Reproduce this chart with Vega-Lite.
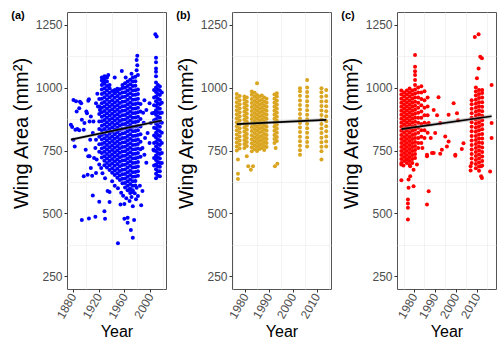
{
"$schema":"https://vega.github.io/schema/vega-lite/v6.json",
"padding":{"left":10,"top":9,"right":0,"bottom":0},
"spacing":8,
"config":{
"font":"Liberation Sans",
"view":{"stroke":"#555555","strokeWidth":1},
"axis":{"domain":false,"tickSize":3,"tickColor":"#333333","labelFontSize":12,"labelColor":"#4D4D4D","labelFont":"Liberation Sans","titleFont":"Liberation Sans","titleFontWeight":"normal","titleColor":"#000000","gridColor":"#EBEBEB","gridWidth":1,"labelFlush":false,"labelOverlap":false,"labelPadding":2},
"axisX":{"labelAngle":300,"labelAlign":"right","labelBaseline":"middle","titleFontSize":16,"titlePadding":3},
"axisY":{"titleFontSize":20,"titlePadding":4,"titleY":121},
"title":{"anchor":"start","frame":"bounds","fontSize":11,"fontWeight":"bold","baseline":"top","offset":0,"dy":13,"font":"Liberation Sans","color":"#000000"}
},
"datasets":{
"fit":[{"p":"a","x":1877,"y":793,"lo":787,"hi":799},{"p":"a","x":2018,"y":869,"lo":862,"hi":876},{"p":"b","x":1976.5,"y":855,"lo":849,"hi":861},{"p":"b","x":2014,"y":872,"lo":865,"hi":879},{"p":"c","x":1974,"y":835,"lo":828,"hi":842},{"p":"c","x":2017,"y":886,"lo":878,"hi":894}],
"a":[
{"x":1877,"y":852},{"x":1879,"y":843},{"x":1881,"y":793},{"x":1881,"y":951},{"x":1883,"y":766},{"x":1884,"y":832},{"x":1885,"y":946},{"x":1886,"y":905},{"x":1887,"y":835},{"x":1890,"y":918},{"x":1890,"y":830},{"x":1891,"y":944},{"x":1893,"y":938},{"x":1894,"y":872},{"x":1897,"y":832},{"x":1897,"y":648},{"x":1898,"y":859},{"x":1900,"y":753},{"x":1901,"y":905},{"x":1902,"y":898},{"x":1903,"y":654},{"x":1904,"y":948},{"x":1904,"y":727},{"x":1905,"y":954},{"x":1906,"y":865},{"x":1906,"y":727},{"x":1907,"y":793},{"x":1908,"y":885},{"x":1908,"y":681},{"x":1910,"y":650},{"x":1911,"y":819},{"x":1912,"y":865},{"x":1913,"y":720},{"x":1915,"y":760},{"x":1916,"y":793},{"x":1916,"y":938},{"x":1916,"y":661},{"x":1917,"y":714},{"x":1918,"y":975},{"x":1919,"y":925},{"x":1922,"y":911},
{"x":1894,"y":474},{"x":1905,"y":480},{"x":1915,"y":487},{"x":1911,"y":571},{"x":1921,"y":546},{"x":1921,"y":694},{"x":1924,"y":681},{"x":1929,"y":509},{"x":1930,"y":479},{"x":1934,"y":589},{"x":1937,"y":545},{"x":1937,"y":585},{"x":1950,"y":382},{"x":1954,"y":536},{"x":1955,"y":582},{"x":1960,"y":479},{"x":1960,"y":538},{"x":1965,"y":483},{"x":1965,"y":463},{"x":1968,"y":549},{"x":1968,"y":595},{"x":1970,"y":434},{"x":1973,"y":404},{"x":1973,"y":529},{"x":1973,"y":585},{"x":1975,"y":474},{"x":1978,"y":556},{"x":1979,"y":602},{"x":1981,"y":569},{"x":1986,"y":533},{"x":1988,"y":589},{"x":1991,"y":733},{"x":1994,"y":701},
{"x":1945,"y":610},{"x":1950,"y":600},{"x":1958,"y":570},{"x":1963,"y":560},{"x":1971,"y":565},{"x":1976,"y":580},{"x":1984,"y":610},{"x":1941,"y":628},{"x":1930,"y":640},{"x":1926,"y":660},
{"x":1980,"y":1126},{"x":1979,"y":1109},{"x":1980,"y":1089},{"x":1979,"y":1069},{"x":1981,"y":1050},{"x":1956,"y":1066},{"x":1945,"y":1040},{"x":1931,"y":1043},{"x":1927,"y":1023},{"x":1935,"y":1050},{"x":1962,"y":1040},{"x":1971,"y":1055},
{"x":1994,"y":911},{"x":1996,"y":819},{"x":1999,"y":938},{"x":1999,"y":780},{"x":2001,"y":859},{"x":2003,"y":898},{"x":2005,"y":753},{"x":1990,"y":860},{"x":1992,"y":800},{"x":1988,"y":760},{"x":1989,"y":900},{"x":1991,"y":950},
{"x":1921,"y":745},{"x":1921,"y":775},{"x":1921,"y":805},{"x":1921,"y":835},{"x":1921,"y":865},{"x":1921,"y":895},{"x":1921,"y":925},{"x":1921,"y":955},
{"x":1925,"y":722},{"x":1925,"y":740},{"x":1925,"y":758},{"x":1925,"y":776},{"x":1925,"y":794},{"x":1925,"y":812},{"x":1925,"y":830},{"x":1925,"y":848},{"x":1925,"y":866},{"x":1925,"y":884},{"x":1925,"y":902},{"x":1925,"y":920},{"x":1925,"y":938},{"x":1925,"y":956},{"x":1925,"y":974},{"x":1925,"y":992},{"x":1925,"y":1010},{"x":1925,"y":1028},{"x":1925,"y":1040},
{"x":1929,"y":691},{"x":1929,"y":709},{"x":1929,"y":727},{"x":1929,"y":745},{"x":1929,"y":763},{"x":1929,"y":781},{"x":1929,"y":799},{"x":1929,"y":817},{"x":1929,"y":835},{"x":1929,"y":853},{"x":1929,"y":871},{"x":1929,"y":889},{"x":1929,"y":907},{"x":1929,"y":925},{"x":1929,"y":943},{"x":1929,"y":961},{"x":1929,"y":979},{"x":1929,"y":997},{"x":1929,"y":1015},{"x":1929,"y":1033},{"x":1929,"y":1045},
{"x":1933,"y":682},{"x":1933,"y":700},{"x":1933,"y":718},{"x":1933,"y":736},{"x":1933,"y":754},{"x":1933,"y":772},{"x":1933,"y":790},{"x":1933,"y":808},{"x":1933,"y":826},{"x":1933,"y":844},{"x":1933,"y":862},{"x":1933,"y":880},{"x":1933,"y":898},{"x":1933,"y":916},{"x":1933,"y":934},{"x":1933,"y":952},{"x":1933,"y":970},{"x":1933,"y":988},{"x":1933,"y":1006},{"x":1933,"y":1024},{"x":1933,"y":1040},
{"x":1937,"y":673},{"x":1937,"y":691},{"x":1937,"y":709},{"x":1937,"y":727},{"x":1937,"y":745},{"x":1937,"y":763},{"x":1937,"y":781},{"x":1937,"y":799},{"x":1937,"y":817},{"x":1937,"y":835},{"x":1937,"y":853},{"x":1937,"y":871},{"x":1937,"y":889},{"x":1937,"y":907},{"x":1937,"y":925},{"x":1937,"y":943},{"x":1937,"y":961},{"x":1937,"y":979},{"x":1937,"y":997},{"x":1937,"y":1010},
{"x":1941,"y":662},{"x":1941,"y":680},{"x":1941,"y":698},{"x":1941,"y":716},{"x":1941,"y":734},{"x":1941,"y":752},{"x":1941,"y":770},{"x":1941,"y":788},{"x":1941,"y":806},{"x":1941,"y":824},{"x":1941,"y":842},{"x":1941,"y":860},{"x":1941,"y":878},{"x":1941,"y":896},{"x":1941,"y":914},{"x":1941,"y":932},{"x":1941,"y":950},{"x":1941,"y":968},{"x":1941,"y":986},
{"x":1945,"y":653},{"x":1945,"y":671},{"x":1945,"y":689},{"x":1945,"y":707},{"x":1945,"y":725},{"x":1945,"y":743},{"x":1945,"y":761},{"x":1945,"y":779},{"x":1945,"y":797},{"x":1945,"y":815},{"x":1945,"y":833},{"x":1945,"y":851},{"x":1945,"y":869},{"x":1945,"y":887},{"x":1945,"y":905},{"x":1945,"y":923},{"x":1945,"y":941},{"x":1945,"y":959},{"x":1945,"y":977},{"x":1945,"y":990},
{"x":1949,"y":642},{"x":1949,"y":660},{"x":1949,"y":678},{"x":1949,"y":696},{"x":1949,"y":714},{"x":1949,"y":732},{"x":1949,"y":750},{"x":1949,"y":768},{"x":1949,"y":786},{"x":1949,"y":804},{"x":1949,"y":822},{"x":1949,"y":840},{"x":1949,"y":858},{"x":1949,"y":876},{"x":1949,"y":894},{"x":1949,"y":912},{"x":1949,"y":930},{"x":1949,"y":948},{"x":1949,"y":966},{"x":1949,"y":984},{"x":1949,"y":995},
{"x":1953,"y":633},{"x":1953,"y":651},{"x":1953,"y":669},{"x":1953,"y":687},{"x":1953,"y":705},{"x":1953,"y":723},{"x":1953,"y":741},{"x":1953,"y":759},{"x":1953,"y":777},{"x":1953,"y":795},{"x":1953,"y":813},{"x":1953,"y":831},{"x":1953,"y":849},{"x":1953,"y":867},{"x":1953,"y":885},{"x":1953,"y":903},{"x":1953,"y":921},{"x":1953,"y":939},{"x":1953,"y":957},{"x":1953,"y":975},{"x":1953,"y":993},
{"x":1957,"y":620},{"x":1957,"y":638},{"x":1957,"y":656},{"x":1957,"y":674},{"x":1957,"y":692},{"x":1957,"y":710},{"x":1957,"y":728},{"x":1957,"y":746},{"x":1957,"y":764},{"x":1957,"y":782},{"x":1957,"y":800},{"x":1957,"y":818},{"x":1957,"y":836},{"x":1957,"y":854},{"x":1957,"y":872},{"x":1957,"y":890},{"x":1957,"y":908},{"x":1957,"y":926},{"x":1957,"y":944},{"x":1957,"y":962},{"x":1957,"y":980},{"x":1957,"y":998},{"x":1957,"y":1010},
{"x":1961,"y":603},{"x":1961,"y":621},{"x":1961,"y":639},{"x":1961,"y":657},{"x":1961,"y":675},{"x":1961,"y":693},{"x":1961,"y":711},{"x":1961,"y":729},{"x":1961,"y":747},{"x":1961,"y":765},{"x":1961,"y":783},{"x":1961,"y":801},{"x":1961,"y":819},{"x":1961,"y":837},{"x":1961,"y":855},{"x":1961,"y":873},{"x":1961,"y":891},{"x":1961,"y":909},{"x":1961,"y":927},{"x":1961,"y":945},{"x":1961,"y":963},{"x":1961,"y":981},{"x":1961,"y":999},{"x":1961,"y":1017},
{"x":1965,"y":592},{"x":1965,"y":610},{"x":1965,"y":628},{"x":1965,"y":646},{"x":1965,"y":664},{"x":1965,"y":682},{"x":1965,"y":700},{"x":1965,"y":718},{"x":1965,"y":736},{"x":1965,"y":754},{"x":1965,"y":772},{"x":1965,"y":790},{"x":1965,"y":808},{"x":1965,"y":826},{"x":1965,"y":844},{"x":1965,"y":862},{"x":1965,"y":880},{"x":1965,"y":898},{"x":1965,"y":916},{"x":1965,"y":934},{"x":1965,"y":952},{"x":1965,"y":970},{"x":1965,"y":988},{"x":1965,"y":1006},{"x":1965,"y":1024},
{"x":1969,"y":581},{"x":1969,"y":599},{"x":1969,"y":617},{"x":1969,"y":635},{"x":1969,"y":653},{"x":1969,"y":671},{"x":1969,"y":689},{"x":1969,"y":707},{"x":1969,"y":725},{"x":1969,"y":743},{"x":1969,"y":761},{"x":1969,"y":779},{"x":1969,"y":797},{"x":1969,"y":815},{"x":1969,"y":833},{"x":1969,"y":851},{"x":1969,"y":869},{"x":1969,"y":887},{"x":1969,"y":905},{"x":1969,"y":923},{"x":1969,"y":941},{"x":1969,"y":959},{"x":1969,"y":977},{"x":1969,"y":995},{"x":1969,"y":1013},{"x":1969,"y":1031},
{"x":1973,"y":592},{"x":1973,"y":610},{"x":1973,"y":628},{"x":1973,"y":646},{"x":1973,"y":664},{"x":1973,"y":682},{"x":1973,"y":700},{"x":1973,"y":718},{"x":1973,"y":736},{"x":1973,"y":754},{"x":1973,"y":772},{"x":1973,"y":790},{"x":1973,"y":808},{"x":1973,"y":826},{"x":1973,"y":844},{"x":1973,"y":862},{"x":1973,"y":880},{"x":1973,"y":898},{"x":1973,"y":916},{"x":1973,"y":934},{"x":1973,"y":952},{"x":1973,"y":970},{"x":1973,"y":988},{"x":1973,"y":1006},{"x":1973,"y":1024},{"x":1973,"y":1040},
{"x":1977,"y":611},{"x":1977,"y":629},{"x":1977,"y":647},{"x":1977,"y":665},{"x":1977,"y":683},{"x":1977,"y":701},{"x":1977,"y":719},{"x":1977,"y":737},{"x":1977,"y":755},{"x":1977,"y":773},{"x":1977,"y":791},{"x":1977,"y":809},{"x":1977,"y":827},{"x":1977,"y":845},{"x":1977,"y":863},{"x":1977,"y":881},{"x":1977,"y":899},{"x":1977,"y":917},{"x":1977,"y":935},{"x":1977,"y":953},{"x":1977,"y":971},{"x":1977,"y":989},{"x":1977,"y":1007},{"x":1977,"y":1025},{"x":1977,"y":1043},
{"x":1981,"y":650},{"x":1981,"y":668},{"x":1981,"y":686},{"x":1981,"y":704},{"x":1981,"y":722},{"x":1981,"y":740},{"x":1981,"y":758},{"x":1981,"y":776},{"x":1981,"y":794},{"x":1981,"y":812},{"x":1981,"y":830},{"x":1981,"y":848},{"x":1981,"y":866},{"x":1981,"y":884},{"x":1981,"y":902},{"x":1981,"y":920},{"x":1981,"y":938},{"x":1981,"y":956},{"x":1981,"y":974},{"x":1981,"y":992},
{"x":1985,"y":725},{"x":1985,"y":755},{"x":1985,"y":785},{"x":1985,"y":815},{"x":1985,"y":845},{"x":1985,"y":875},{"x":1985,"y":905},{"x":1985,"y":935},
{"x":2006,"y":690},{"x":2006,"y":720},{"x":2006,"y":750},{"x":2006,"y":780},{"x":2006,"y":810},{"x":2006,"y":840},{"x":2006,"y":870},{"x":2006,"y":900},{"x":2006,"y":930},{"x":2006,"y":960},{"x":2006,"y":990},
{"x":2009,"y":640},{"x":2009,"y":658},{"x":2009,"y":676},{"x":2009,"y":694},{"x":2009,"y":712},{"x":2009,"y":730},{"x":2009,"y":748},{"x":2009,"y":766},{"x":2009,"y":784},{"x":2009,"y":802},{"x":2009,"y":820},{"x":2009,"y":838},{"x":2009,"y":856},{"x":2009,"y":874},{"x":2009,"y":892},{"x":2009,"y":910},{"x":2009,"y":928},{"x":2009,"y":946},{"x":2009,"y":964},{"x":2009,"y":982},{"x":2009,"y":1000},{"x":2009,"y":1020},{"x":2009,"y":1045},{"x":2009,"y":1063},{"x":2009,"y":1076},{"x":2009,"y":1100},{"x":2009,"y":1118},{"x":2008,"y":1212},{"x":2010,"y":1203},
{"x":2012,"y":650},{"x":2012,"y":668},{"x":2012,"y":686},{"x":2012,"y":704},{"x":2012,"y":722},{"x":2012,"y":740},{"x":2012,"y":758},{"x":2012,"y":776},{"x":2012,"y":794},{"x":2012,"y":812},{"x":2012,"y":830},{"x":2012,"y":848},{"x":2012,"y":866},{"x":2012,"y":884},{"x":2012,"y":902},{"x":2012,"y":920},{"x":2012,"y":938},{"x":2012,"y":956},{"x":2012,"y":974},{"x":2012,"y":992},{"x":2012,"y":1010},
{"x":2015,"y":648},{"x":2015,"y":668},{"x":2015,"y":685},{"x":2015,"y":700},{"x":2015,"y":718},{"x":2015,"y":736},{"x":2015,"y":754},{"x":2015,"y":772},{"x":2015,"y":790},{"x":2015,"y":808},{"x":2015,"y":826},{"x":2015,"y":844},{"x":2015,"y":862},{"x":2015,"y":880},{"x":2015,"y":898},{"x":2015,"y":916},{"x":2015,"y":934},{"x":2015,"y":952},{"x":2015,"y":970},{"x":2015,"y":988},{"x":2015,"y":1004},
{"x":2018,"y":700},{"x":2018,"y":740},{"x":2018,"y":780},{"x":2018,"y":820},{"x":2018,"y":860},{"x":2018,"y":900},{"x":2018,"y":940},{"x":2018,"y":980}
],
"b":[
{"x":1976.5,"y":750},{"x":1976.5,"y":766},{"x":1976.5,"y":782},{"x":1976.5,"y":798},{"x":1976.5,"y":814},{"x":1976.5,"y":830},{"x":1976.5,"y":846},{"x":1976.5,"y":862},{"x":1976.5,"y":878},{"x":1976.5,"y":894},{"x":1976.5,"y":910},{"x":1976.5,"y":926},{"x":1976.5,"y":942},{"x":1976.5,"y":958},{"x":1976.5,"y":974},
{"x":1977.7,"y":758},{"x":1977.7,"y":774},{"x":1977.7,"y":790},{"x":1977.7,"y":806},{"x":1977.7,"y":822},{"x":1977.7,"y":838},{"x":1977.7,"y":854},{"x":1977.7,"y":870},{"x":1977.7,"y":886},{"x":1977.7,"y":902},{"x":1977.7,"y":918},{"x":1977.7,"y":934},{"x":1977.7,"y":950},{"x":1977.7,"y":966},
{"x":1977,"y":714},{"x":1977,"y":658},{"x":1977,"y":637},
{"x":1979.7,"y":760},{"x":1979.7,"y":776},{"x":1979.7,"y":792},{"x":1979.7,"y":808},{"x":1979.7,"y":824},{"x":1979.7,"y":840},{"x":1979.7,"y":856},{"x":1979.7,"y":872},{"x":1979.7,"y":888},{"x":1979.7,"y":904},{"x":1979.7,"y":920},{"x":1979.7,"y":936},{"x":1979.7,"y":952},{"x":1979.7,"y":964},
{"x":1980.7,"y":768},{"x":1980.7,"y":784},{"x":1980.7,"y":800},{"x":1980.7,"y":816},{"x":1980.7,"y":832},{"x":1980.7,"y":848},{"x":1980.7,"y":864},{"x":1980.7,"y":880},{"x":1980.7,"y":896},{"x":1980.7,"y":912},{"x":1980.7,"y":928},{"x":1980.7,"y":944},{"x":1980.7,"y":960},
{"x":1980.7,"y":727},{"x":1981.3,"y":687},{"x":1982.4,"y":674},{"x":1983.3,"y":687},
{"x":1982.8,"y":747},{"x":1982.8,"y":763},{"x":1982.8,"y":779},{"x":1982.8,"y":795},{"x":1982.8,"y":811},{"x":1982.8,"y":827},{"x":1982.8,"y":843},{"x":1982.8,"y":859},{"x":1982.8,"y":875},{"x":1982.8,"y":891},{"x":1982.8,"y":907},{"x":1982.8,"y":923},{"x":1982.8,"y":939},{"x":1982.8,"y":955},{"x":1982.8,"y":971},{"x":1982.8,"y":984},
{"x":1984,"y":755},{"x":1984,"y":771},{"x":1984,"y":787},{"x":1984,"y":803},{"x":1984,"y":819},{"x":1984,"y":835},{"x":1984,"y":851},{"x":1984,"y":867},{"x":1984,"y":883},{"x":1984,"y":899},{"x":1984,"y":915},{"x":1984,"y":931},{"x":1984,"y":947},{"x":1984,"y":963},{"x":1984,"y":979},
{"x":1985,"y":748},{"x":1985,"y":764},{"x":1985,"y":780},{"x":1985,"y":796},{"x":1985,"y":812},{"x":1985,"y":828},{"x":1985,"y":844},{"x":1985,"y":860},{"x":1985,"y":876},{"x":1985,"y":892},{"x":1985,"y":908},{"x":1985,"y":924},{"x":1985,"y":940},{"x":1985,"y":956},{"x":1985,"y":970},{"x":1985,"y":1017},
{"x":1986,"y":756},{"x":1986,"y":772},{"x":1986,"y":788},{"x":1986,"y":804},{"x":1986,"y":820},{"x":1986,"y":836},{"x":1986,"y":852},{"x":1986,"y":868},{"x":1986,"y":884},{"x":1986,"y":900},{"x":1986,"y":916},{"x":1986,"y":932},{"x":1986,"y":948},{"x":1986,"y":964},
{"x":1987,"y":760},{"x":1987,"y":776},{"x":1987,"y":792},{"x":1987,"y":808},{"x":1987,"y":824},{"x":1987,"y":840},{"x":1987,"y":856},{"x":1987,"y":872},{"x":1987,"y":888},{"x":1987,"y":904},{"x":1987,"y":920},{"x":1987,"y":936},{"x":1987,"y":952},{"x":1987,"y":968},
{"x":1988,"y":752},{"x":1988,"y":768},{"x":1988,"y":784},{"x":1988,"y":800},{"x":1988,"y":816},{"x":1988,"y":832},{"x":1988,"y":848},{"x":1988,"y":864},{"x":1988,"y":880},{"x":1988,"y":896},{"x":1988,"y":912},{"x":1988,"y":928},{"x":1988,"y":944},{"x":1988,"y":960},
{"x":1989,"y":764},{"x":1989,"y":780},{"x":1989,"y":796},{"x":1989,"y":812},{"x":1989,"y":828},{"x":1989,"y":844},{"x":1989,"y":860},{"x":1989,"y":876},{"x":1989,"y":892},{"x":1989,"y":908},{"x":1989,"y":924},{"x":1989,"y":940},{"x":1989,"y":956},
{"x":1992.3,"y":780},{"x":1992.3,"y":796},{"x":1992.3,"y":812},{"x":1992.3,"y":828},{"x":1992.3,"y":844},{"x":1992.3,"y":860},{"x":1992.3,"y":876},{"x":1992.3,"y":892},{"x":1992.3,"y":908},{"x":1992.3,"y":924},{"x":1992.3,"y":940},{"x":1992.3,"y":956},{"x":1992.3,"y":972},
{"x":1993.3,"y":788},{"x":1993.3,"y":804},{"x":1993.3,"y":820},{"x":1993.3,"y":836},{"x":1993.3,"y":852},{"x":1993.3,"y":868},{"x":1993.3,"y":884},{"x":1993.3,"y":900},{"x":1993.3,"y":916},{"x":1993.3,"y":932},{"x":1993.3,"y":948},{"x":1993.3,"y":964},{"x":1993.3,"y":977},
{"x":1992.5,"y":687},{"x":1993.5,"y":697},{"x":1992.8,"y":760},
{"x":2003,"y":733},{"x":2003,"y":751},{"x":2003,"y":769},{"x":2003,"y":787},{"x":2003,"y":805},{"x":2003,"y":823},{"x":2003,"y":841},{"x":2003,"y":859},{"x":2003,"y":877},{"x":2003,"y":895},{"x":2003,"y":913},{"x":2003,"y":931},{"x":2003,"y":949},{"x":2003,"y":967},{"x":2003,"y":985},{"x":2003,"y":997},
{"x":2006,"y":766},{"x":2006,"y":784},{"x":2006,"y":802},{"x":2006,"y":820},{"x":2006,"y":838},{"x":2006,"y":856},{"x":2006,"y":874},{"x":2006,"y":892},{"x":2006,"y":910},{"x":2006,"y":928},{"x":2006,"y":946},{"x":2006,"y":964},{"x":2006,"y":982},{"x":2006,"y":1000},{"x":2006,"y":1030},
{"x":2012,"y":714},{"x":2012,"y":747},{"x":2012,"y":765},{"x":2012,"y":783},{"x":2012,"y":801},{"x":2012,"y":819},{"x":2012,"y":837},{"x":2012,"y":855},{"x":2012,"y":873},{"x":2012,"y":891},{"x":2012,"y":909},{"x":2012,"y":927},{"x":2012,"y":945},{"x":2012,"y":963},{"x":2012,"y":981},{"x":2012,"y":997},
{"x":2014,"y":766},{"x":2014,"y":786},{"x":2014,"y":806},{"x":2014,"y":826},{"x":2014,"y":846},{"x":2014,"y":866},{"x":2014,"y":886},{"x":2014,"y":906},{"x":2014,"y":926},{"x":2014,"y":946},{"x":2014,"y":966},{"x":2014,"y":990}
],
"c":[
{"x":1974,"y":700},{"x":1974,"y":716},{"x":1974,"y":732},{"x":1974,"y":748},{"x":1974,"y":764},{"x":1974,"y":780},{"x":1974,"y":796},{"x":1974,"y":812},{"x":1974,"y":828},{"x":1974,"y":844},{"x":1974,"y":860},{"x":1974,"y":876},{"x":1974,"y":892},{"x":1974,"y":908},{"x":1974,"y":924},{"x":1974,"y":940},{"x":1974,"y":956},{"x":1974,"y":972},{"x":1974,"y":988},
{"x":1975.3,"y":708},{"x":1975.3,"y":724},{"x":1975.3,"y":740},{"x":1975.3,"y":756},{"x":1975.3,"y":772},{"x":1975.3,"y":788},{"x":1975.3,"y":804},{"x":1975.3,"y":820},{"x":1975.3,"y":836},{"x":1975.3,"y":852},{"x":1975.3,"y":868},{"x":1975.3,"y":884},{"x":1975.3,"y":900},{"x":1975.3,"y":916},{"x":1975.3,"y":932},{"x":1975.3,"y":948},{"x":1975.3,"y":964},{"x":1975.3,"y":980},
{"x":1976.6,"y":700},{"x":1976.6,"y":716},{"x":1976.6,"y":732},{"x":1976.6,"y":748},{"x":1976.6,"y":764},{"x":1976.6,"y":780},{"x":1976.6,"y":796},{"x":1976.6,"y":812},{"x":1976.6,"y":828},{"x":1976.6,"y":844},{"x":1976.6,"y":860},{"x":1976.6,"y":876},{"x":1976.6,"y":892},{"x":1976.6,"y":908},{"x":1976.6,"y":924},{"x":1976.6,"y":940},{"x":1976.6,"y":956},{"x":1976.6,"y":972},{"x":1976.6,"y":988},
{"x":1977.9,"y":692},{"x":1977.9,"y":708},{"x":1977.9,"y":724},{"x":1977.9,"y":740},{"x":1977.9,"y":756},{"x":1977.9,"y":772},{"x":1977.9,"y":788},{"x":1977.9,"y":804},{"x":1977.9,"y":820},{"x":1977.9,"y":836},{"x":1977.9,"y":852},{"x":1977.9,"y":868},{"x":1977.9,"y":884},{"x":1977.9,"y":900},{"x":1977.9,"y":916},{"x":1977.9,"y":932},{"x":1977.9,"y":948},{"x":1977.9,"y":964},{"x":1977.9,"y":980},{"x":1977.9,"y":996},
{"x":1979.2,"y":700},{"x":1979.2,"y":716},{"x":1979.2,"y":732},{"x":1979.2,"y":748},{"x":1979.2,"y":764},{"x":1979.2,"y":780},{"x":1979.2,"y":796},{"x":1979.2,"y":812},{"x":1979.2,"y":828},{"x":1979.2,"y":844},{"x":1979.2,"y":860},{"x":1979.2,"y":876},{"x":1979.2,"y":892},{"x":1979.2,"y":908},{"x":1979.2,"y":924},{"x":1979.2,"y":940},{"x":1979.2,"y":956},{"x":1979.2,"y":972},{"x":1979.2,"y":988},
{"x":1980.5,"y":720},{"x":1980.5,"y":736},{"x":1980.5,"y":752},{"x":1980.5,"y":768},{"x":1980.5,"y":784},{"x":1980.5,"y":800},{"x":1980.5,"y":816},{"x":1980.5,"y":832},{"x":1980.5,"y":848},{"x":1980.5,"y":864},{"x":1980.5,"y":880},{"x":1980.5,"y":896},{"x":1980.5,"y":912},{"x":1980.5,"y":928},{"x":1980.5,"y":944},{"x":1980.5,"y":960},{"x":1980.5,"y":976},{"x":1980.5,"y":992},{"x":1980.5,"y":1010},{"x":1980.5,"y":1030},{"x":1980.5,"y":1050},{"x":1980.5,"y":1065},{"x":1980.5,"y":1083},{"x":1980.5,"y":1129},
{"x":1982,"y":760},{"x":1982,"y":780},{"x":1982,"y":800},{"x":1982,"y":820},{"x":1982,"y":840},{"x":1982,"y":860},{"x":1982,"y":880},{"x":1982,"y":900},{"x":1982,"y":920},{"x":1982,"y":940},{"x":1982,"y":960},{"x":1982,"y":980},{"x":1982,"y":1000},
{"x":1983.5,"y":780},{"x":1983.5,"y":805},{"x":1983.5,"y":830},{"x":1983.5,"y":855},{"x":1983.5,"y":880},{"x":1983.5,"y":905},{"x":1983.5,"y":930},{"x":1983.5,"y":955},{"x":1983.5,"y":980},{"x":1983.5,"y":1005},
{"x":1985,"y":800},{"x":1985,"y":830},{"x":1985,"y":860},{"x":1985,"y":890},{"x":1985,"y":920},{"x":1985,"y":950},{"x":1985,"y":985},
{"x":1986.5,"y":820},{"x":1986.5,"y":855},{"x":1986.5,"y":890},{"x":1986.5,"y":925},{"x":1986.5,"y":960},
{"x":1974,"y":694},{"x":1974,"y":632},{"x":1975,"y":690},{"x":1976.7,"y":714},{"x":1978.2,"y":687},{"x":1978.2,"y":648},{"x":1977.4,"y":635},{"x":1977.4,"y":602},{"x":1979.8,"y":674},{"x":1979.8,"y":608},{"x":1981.4,"y":694},{"x":1977.1,"y":555},{"x":1977.1,"y":540},{"x":1977.1,"y":523},{"x":1977.1,"y":476},{"x":1987,"y":588},{"x":1986.2,"y":536},{"x":1986.2,"y":733},{"x":1989.4,"y":740},{"x":1992.5,"y":737},{"x":1999.7,"y":729},
{"x":1987,"y":859},{"x":1988.6,"y":740},{"x":1989.4,"y":911},{"x":1990.1,"y":819},{"x":1991.7,"y":961},{"x":1992.5,"y":859},{"x":1993.3,"y":753},{"x":1994.9,"y":806},{"x":1995.7,"y":766},{"x":1996.5,"y":786},{"x":1996.5,"y":892},{"x":1998.9,"y":938},{"x":1999.7,"y":733},{"x":2000.5,"y":898},{"x":2002.8,"y":756},{"x":2003.6,"y":779},{"x":1986.2,"y":727},{"x":1984,"y":760},{"x":2001,"y":870},{"x":1991,"y":890},{"x":1988,"y":800},
{"x":2007.5,"y":700},{"x":2007.5,"y":718},{"x":2007.5,"y":736},{"x":2007.5,"y":754},{"x":2007.5,"y":772},{"x":2007.5,"y":790},{"x":2007.5,"y":808},{"x":2007.5,"y":826},{"x":2007.5,"y":844},{"x":2007.5,"y":862},{"x":2007.5,"y":880},{"x":2007.5,"y":898},{"x":2007.5,"y":916},{"x":2007.5,"y":934},{"x":2007.5,"y":950},
{"x":2009.5,"y":680},{"x":2009.5,"y":696},{"x":2009.5,"y":712},{"x":2009.5,"y":728},{"x":2009.5,"y":744},{"x":2009.5,"y":760},{"x":2009.5,"y":776},{"x":2009.5,"y":792},{"x":2009.5,"y":808},{"x":2009.5,"y":824},{"x":2009.5,"y":840},{"x":2009.5,"y":856},{"x":2009.5,"y":872},{"x":2009.5,"y":888},{"x":2009.5,"y":904},{"x":2009.5,"y":920},{"x":2009.5,"y":936},{"x":2009.5,"y":952},{"x":2009.5,"y":968},{"x":2009.5,"y":984},{"x":2009.5,"y":1000},{"x":2009,"y":1201},
{"x":2011,"y":670},{"x":2011,"y":686},{"x":2011,"y":702},{"x":2011,"y":718},{"x":2011,"y":734},{"x":2011,"y":750},{"x":2011,"y":766},{"x":2011,"y":782},{"x":2011,"y":798},{"x":2011,"y":814},{"x":2011,"y":830},{"x":2011,"y":846},{"x":2011,"y":862},{"x":2011,"y":878},{"x":2011,"y":894},{"x":2011,"y":910},{"x":2011,"y":926},{"x":2011,"y":942},{"x":2011,"y":958},{"x":2011,"y":974},{"x":2011,"y":990},{"x":2010,"y":1037},{"x":2010.8,"y":1076},{"x":2010.8,"y":1212},
{"x":2012.5,"y":690},{"x":2012.5,"y":708},{"x":2012.5,"y":726},{"x":2012.5,"y":744},{"x":2012.5,"y":762},{"x":2012.5,"y":780},{"x":2012.5,"y":798},{"x":2012.5,"y":816},{"x":2012.5,"y":834},{"x":2012.5,"y":852},{"x":2012.5,"y":870},{"x":2012.5,"y":888},{"x":2012.5,"y":906},{"x":2012.5,"y":924},{"x":2012.5,"y":942},{"x":2012.5,"y":960},{"x":2012.5,"y":978},{"x":2012.5,"y":990},{"x":2012.4,"y":1116},{"x":2011.6,"y":1122},
{"x":2007,"y":687},{"x":2007,"y":671},{"x":2012,"y":687},{"x":2012,"y":648},{"x":2012.4,"y":641},{"x":2016.3,"y":667},{"x":2017,"y":1010},{"x":2017,"y":859},{"x":2017,"y":800}
]
},
"hconcat":[
{"width":99,"height":277,"title":{"text":"(a)"},
"resolve":{"axis":{"x":"independent","y":"independent"}},
"layer":[
{"data":{"name":"fit"},"transform":[{"filter":"datum.p === 'a'"}],"mark":{"type":"area","color":"#999999","opacity":0},
"encoding":{"x":{"field":"x","type":"quantitative","scale":{"domain":[1871,2024.5],"nice":false,"zero":false},"axis":{"orient":"bottom","values":[1900,1940,1980,2020],"labels":false,"ticks":false,"title":null,"grid":true,"gridWidth":0.6}},"y":{"field":"lo","type":"quantitative","scale":{"domain":[200,1300],"nice":false,"zero":false},"axis":{"orient":"left","values":[375,625,875,1125],"labels":false,"ticks":false,"title":null,"grid":true,"gridWidth":0.6}},"y2":{"field":"hi"}}},
{"data":{"name":"a"},"mark":{"type":"circle","size":16,"opacity":1,"color":"#0000FF","clip":true},
"encoding":{
"x":{"field":"x","type":"quantitative","axis":{"orient":"bottom","values":[1880,1920,1960,2000],"format":"d","title":"Year"}},
"y":{"field":"y","type":"quantitative","axis":{"orient":"left","values":[250,500,750,1000,1250],"format":"d","title":"Wing Area (mm²)"}}}},
{"data":{"name":"fit"},"transform":[{"filter":"datum.p === 'a'"}],"mark":{"type":"area","color":"#999999","opacity":0.5},
"encoding":{"x":{"field":"x","type":"quantitative","axis":null},"y":{"field":"lo","type":"quantitative","axis":null},"y2":{"field":"hi"}}},
{"data":{"name":"fit"},"transform":[{"filter":"datum.p === 'a'"}],"mark":{"type":"line","color":"#000000","strokeWidth":1.7},
"encoding":{"x":{"field":"x","type":"quantitative","axis":null},"y":{"field":"y","type":"quantitative","axis":null}}}
]},
{"width":99,"height":277,"title":{"text":"(b)"},
"resolve":{"axis":{"x":"independent","y":"independent"}},
"layer":[
{"data":{"name":"fit"},"transform":[{"filter":"datum.p === 'b'"}],"mark":{"type":"area","color":"#999999","opacity":0},
"encoding":{"x":{"field":"x","type":"quantitative","scale":{"domain":[1974.5,2016],"nice":false,"zero":false},"axis":{"orient":"bottom","values":[1975,1985,1995,2005,2015],"labels":false,"ticks":false,"title":null,"grid":true,"gridWidth":0.6}},"y":{"field":"lo","type":"quantitative","scale":{"domain":[200,1300],"nice":false,"zero":false},"axis":{"orient":"left","values":[375,625,875,1125],"labels":false,"ticks":false,"title":null,"grid":true,"gridWidth":0.6}},"y2":{"field":"hi"}}},
{"data":{"name":"b"},"mark":{"type":"circle","size":16,"opacity":1,"color":"#DAA520","clip":true},
"encoding":{
"x":{"field":"x","type":"quantitative","axis":{"orient":"bottom","values":[1980,1990,2000,2010],"format":"d","title":"Year"}},
"y":{"field":"y","type":"quantitative","axis":{"orient":"left","values":[250,500,750,1000,1250],"format":"d","title":"Wing Area (mm²)"}}}},
{"data":{"name":"fit"},"transform":[{"filter":"datum.p === 'b'"}],"mark":{"type":"area","color":"#999999","opacity":0.5},
"encoding":{"x":{"field":"x","type":"quantitative","axis":null},"y":{"field":"lo","type":"quantitative","axis":null},"y2":{"field":"hi"}}},
{"data":{"name":"fit"},"transform":[{"filter":"datum.p === 'b'"}],"mark":{"type":"line","color":"#000000","strokeWidth":1.7},
"encoding":{"x":{"field":"x","type":"quantitative","axis":null},"y":{"field":"y","type":"quantitative","axis":null}}}
]},
{"width":99,"height":277,"title":{"text":"(c)"},
"resolve":{"axis":{"x":"independent","y":"independent"}},
"layer":[
{"data":{"name":"fit"},"transform":[{"filter":"datum.p === 'c'"}],"mark":{"type":"area","color":"#999999","opacity":0},
"encoding":{"x":{"field":"x","type":"quantitative","scale":{"domain":[1971.9,2019.1],"nice":false,"zero":false},"axis":{"orient":"bottom","values":[1975,1985,1995,2005,2015],"labels":false,"ticks":false,"title":null,"grid":true,"gridWidth":0.6}},"y":{"field":"lo","type":"quantitative","scale":{"domain":[200,1300],"nice":false,"zero":false},"axis":{"orient":"left","values":[375,625,875,1125],"labels":false,"ticks":false,"title":null,"grid":true,"gridWidth":0.6}},"y2":{"field":"hi"}}},
{"data":{"name":"c"},"mark":{"type":"circle","size":16,"opacity":1,"color":"#FF0000","clip":true},
"encoding":{
"x":{"field":"x","type":"quantitative","axis":{"orient":"bottom","values":[1980,1990,2000,2010],"format":"d","title":"Year"}},
"y":{"field":"y","type":"quantitative","axis":{"orient":"left","values":[250,500,750,1000,1250],"format":"d","title":"Wing Area (mm²)"}}}},
{"data":{"name":"fit"},"transform":[{"filter":"datum.p === 'c'"}],"mark":{"type":"area","color":"#999999","opacity":0.5},
"encoding":{"x":{"field":"x","type":"quantitative","axis":null},"y":{"field":"lo","type":"quantitative","axis":null},"y2":{"field":"hi"}}},
{"data":{"name":"fit"},"transform":[{"filter":"datum.p === 'c'"}],"mark":{"type":"line","color":"#000000","strokeWidth":1.7},
"encoding":{"x":{"field":"x","type":"quantitative","axis":null},"y":{"field":"y","type":"quantitative","axis":null}}}
]}
]
}
